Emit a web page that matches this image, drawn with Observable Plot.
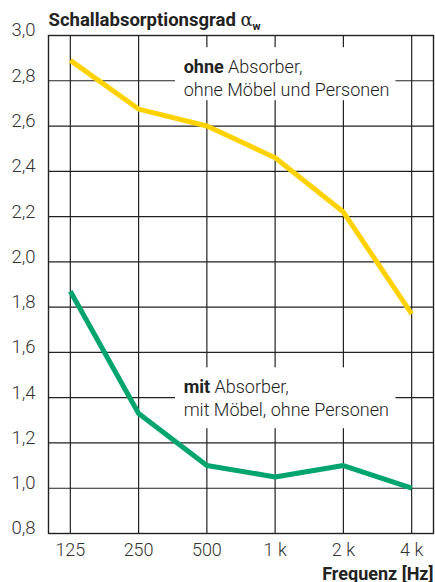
<!DOCTYPE html>
<html><head><meta charset="utf-8">
<script src="https://cdn.jsdelivr.net/npm/d3@7"></script>
<script src="https://cdn.jsdelivr.net/npm/@observablehq/plot@0.6"></script>
<style>body{margin:0;background:#fff;} svg{display:block}</style>
</head><body><div id="chart"></div>
<script>
const frequencies = ["125", "250", "500", "1 k", "2 k", "4 k"];
const ohneValues = [2.89, 2.675, 2.60, 2.46, 2.22, 1.77];
const mitValues = [1.87, 1.33, 1.10, 1.05, 1.10, 1.00];
const yTicks = [0.8, 1.0, 1.2, 1.4, 1.6, 1.8, 2.0, 2.2, 2.4, 2.6, 2.8, 3.0];
const yTickLabels = ["0,8", "1,0", "1,2", "1,4", "1,6", "1,8", "2,0", "2,2", "2,4", "2,6", "2,8", "3,0"];
const seriesNames = ["ohne", "mit"];
const seriesColors = ["#ffd200", "#00a46e"];
const labelTexts = ["ohne Absorber,\nohne Möbel und Personen", "mit Absorber,\nmit Möbel, ohne Personen"];
const titleText = "Schallabsorptionsgrad α";
const xTitle = "Frequenz [Hz]";

const idx = frequencies.map((f, i) => i);
const data = [
  ...ohneValues.map((v, i) => ({i, v, s: seriesNames[0]})),
  ...mitValues.map((v, i) => ({i, v, s: seriesNames[1]}))
];
// annotation boxes (white background behind labels), in data units
const boxes = [
  {x1: 1.54, x2: 4.77, y1: 2.712, y2: 2.946},
  {x1: 1.54, x2: 4.77, y1: 1.263, y2: 1.532}
];
const labels = [
  {x: 1.66, y: 2.734, t: labelTexts[0]},
  {x: 1.66, y: 1.321, t: labelTexts[1]}
];

const font = "Roboto, 'Liberation Sans', sans-serif";
const chart = Plot.plot({
  width: 435, height: 582,
  marginTop: 35, marginBottom: 49, marginLeft: 48, marginRight: 2,
  x: {type: "linear", domain: [-0.32, 5.32], axis: null},
  y: {domain: [0.8, 3.0], axis: null},
  color: {domain: seriesNames, range: seriesColors},
  style: {fontFamily: font, background: "#fff", overflow: "visible"},
  marks: [
    Plot.ruleY(yTicks, {y: d => d, stroke: "#222", strokeWidth: 1.2}),
    Plot.ruleX(idx, {x: d => d, stroke: "#222", strokeWidth: 1.2}),
    Plot.frame({stroke: "#222", strokeWidth: 1.4}),
    Plot.rect(boxes, {x1: "x1", x2: "x2", y1: "y1", y2: "y2", fill: "white"}),
    Plot.line(data, {x: "i", y: "v", z: "s", stroke: "s", strokeWidth: 5, strokeLinecap: "butt", strokeLinejoin: "miter"}),
    Plot.text(labels, {x: "x", y: "y", text: "t", textAnchor: "start", lineAnchor: "bottom", lineHeight: 1.28, fontSize: 18, fontWeight: 300, fill: "#222", className: "annot"}),
    Plot.text(yTicks, {x: () => -0.32, y: d => d, text: (d, i) => yTickLabels[i], textAnchor: "end", dx: -13, dy: -5, fontSize: 18.5, fontWeight: 300, fill: "#333"}),
    Plot.text(idx, {x: d => d, text: d => frequencies[d], frameAnchor: "bottom", lineAnchor: "middle", dy: 17, fontSize: 18, fontWeight: 300, fill: "#333"}),
    Plot.text([titleText], {frameAnchor: "top-left", textAnchor: "start", lineAnchor: "bottom", dy: -10, fontSize: 18.5, fontWeight: "bold", fill: "#222", className: "ctitle"}),
    Plot.text([xTitle], {frameAnchor: "bottom-right", textAnchor: "end", lineAnchor: "bottom", dy: 46, fontSize: 18, fontWeight: "bold", fill: "#222"})
  ]
});
document.getElementById("chart").appendChild(chart);

// bold first word in annotations
d3.select(chart).selectAll(".annot text tspan, .annot tspan").each(function() {
  const t = this.textContent;
  const m = t.match(/^(ohne|mit) (Absorber,)$/);
  if (m) {
    const el = d3.select(this);
    el.text(null);
    el.append("tspan").attr("font-weight", "bold").text(m[1]);
    el.append("tspan").text(" " + m[2]);
  }
});
// title with alpha subscript w
d3.select(chart).selectAll(".ctitle text").each(function() {
  const el = d3.select(this);
  const t = this.textContent;
  const base = t.replace(/ α$/, "");
  el.text(null);
  el.append("tspan").text(base + " ");
  el.append("tspan").attr("font-weight", "normal").attr("font-family", "'DejaVu Serif', serif").attr("font-size", 18).text("α");
  el.append("tspan").attr("font-size", 11).attr("dy", 4).text("w");
});
</script>
</body></html>
